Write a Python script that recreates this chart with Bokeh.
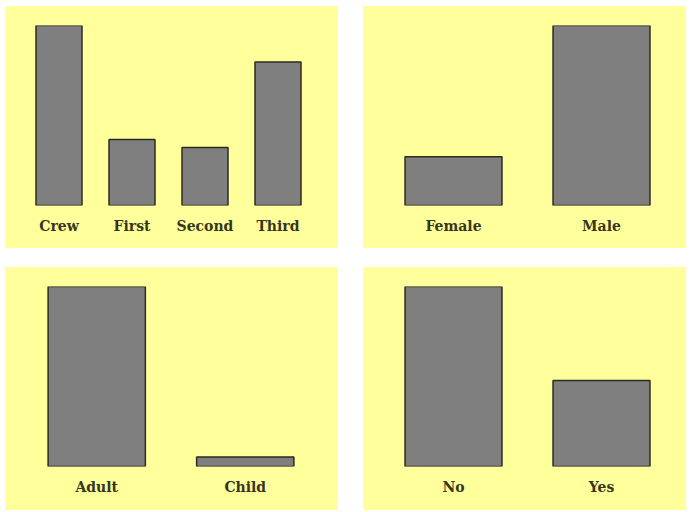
from bokeh.plotting import figure
from bokeh.layouts import row, column
from bokeh.models import FactorRange, Range1d, ColumnDataSource
from bokeh.embed import file_html
from bokeh.resources import INLINE

# Titanic passenger counts
class_labels = ["Crew", "First", "Second", "Third"]
class_counts = [885, 325, 285, 706]
sex_labels = ["Female", "Male"]
sex_counts = [470, 1731]
age_labels = ["Adult", "Child"]
age_counts = [2092, 109]
survived_labels = ["No", "Yes"]
survived_counts = [1490, 711]

BG = "#ffff9c"
BAR = "#7f7f7f"
EDGE = "#2b2b22"
TXT = "#36361c"


def panel(labels, counts, w, h, left, right, bottom, bar_width):
    src = ColumnDataSource(dict(x=labels, top=counts))
    p = figure(x_range=FactorRange(*labels, range_padding=0),
               y_range=Range1d(0, max(counts)),
               width=w, height=h, output_backend="svg", toolbar_location=None,
               min_border_left=left, min_border_right=right,
               min_border_top=19, min_border_bottom=bottom,
               styles={"background-color": BG})
    p.vbar(x="x", top="top", width=bar_width, bottom=0, source=src,
           fill_color=BAR, line_color=EDGE, line_width=1.5)
    p.background_fill_color = BG
    p.border_fill_color = BG
    p.outline_line_color = None
    p.grid.visible = False
    p.yaxis.visible = False
    ax = p.xaxis[0]
    ax.axis_line_color = None
    ax.major_tick_line_color = None
    ax.minor_tick_line_color = None
    ax.major_label_standoff = 6
    ax.major_label_text_font = "DejaVu Serif"
    ax.major_label_text_font_size = "14px"
    ax.major_label_text_font_style = "bold"
    ax.major_label_text_color = TXT
    return p


p1 = panel(class_labels, class_counts, 333, 242, 17, 24, 43, 0.63)
p2 = panel(sex_labels, sex_counts, 323, 242, 16, 11, 43, 0.655)
p3 = panel(age_labels, age_counts, 333, 243, 17, 19, 44, 0.655)
p4 = panel(survived_labels, survived_counts, 323, 243, 16, 11, 44, 0.655)

layout = column(row(p1, p2, spacing=25), row(p3, p4, spacing=25),
                spacing=19, margin=(6, 0, 0, 5))

open("out.html", "w").write(file_html(layout, INLINE))
